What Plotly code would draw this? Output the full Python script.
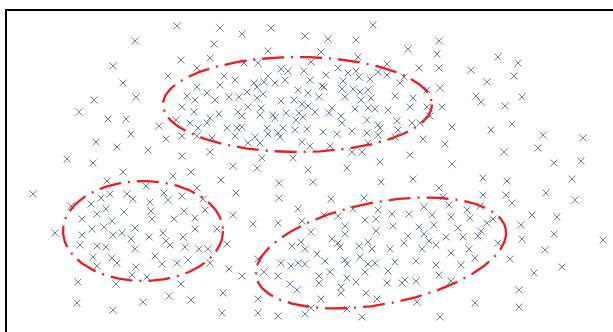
import numpy as np
import plotly.graph_objects as go

# Sample positions (x to the right, y measured downward from the top)
xs = [177, 135, 181, 113, 168, 197, 123, 197, 94, 136, 187, 195, 182, 194, 79, 108, 126, 159, 176, 190,
      198, 131, 182, 197, 96, 166, 117, 148, 182, 67, 93,
      220, 242, 271, 305, 328, 356, 373, 214, 268, 321, 358, 408, 210, 244, 258, 311, 387, 224, 235,
      268, 281, 288, 304, 326, 338, 348, 356, 359, 370, 378, 387, 404, 207, 220, 254, 264, 275, 285, 257,
      310, 322, 324, 343, 342, 353, 360, 368, 400, 229, 239, 247, 257, 263, 298, 308, 319, 345, 361, 371,
      395, 215, 281, 294, 302, 308, 238, 248, 261, 273, 286, 299, 315, 332, 355, 368, 375, 388, 410, 210,
      219, 242, 260, 275, 296, 303, 329, 341, 342, 367, 378, 397, 207, 227, 237, 242, 267, 283, 295, 307,
      323, 337, 352, 367, 380, 398, 235, 255, 268, 278, 280, 212, 248, 260, 302, 310, 330, 352, 362, 368,
      378, 395, 210, 262, 293, 380, 410, 233,
      439, 437, 498, 518, 419, 439, 471, 514, 487, 440, 427, 476, 522, 413, 481, 505, 427, 442, 430, 420,
      412, 452, 491, 512, 543, 583, 423, 445, 538, 504, 554, 581, 452,
      123, 173, 191, 107, 146, 197, 33, 110, 127, 133, 164, 182, 203, 101, 91, 150, 168, 71, 106, 124,
      151, 184, 97, 82, 112, 152, 174, 195, 55, 92, 104, 82, 113, 122, 135, 131, 149, 163, 183, 195,
      80, 97, 106, 166, 170, 185, 199, 135, 93, 112, 117, 155, 162, 177, 188, 97, 136, 132, 147, 78,
      116, 181, 169, 191, 143, 77, 113,
      257, 308, 347, 221, 279, 313, 381, 236, 279, 331, 364, 205, 233, 298, 324, 338, 353, 378, 392, 409,
      253, 278, 302, 365, 376, 345, 393, 217, 311, 376, 227, 208, 332, 345, 404, 292, 301, 338, 340, 359,
      368, 372, 390, 305, 317, 360, 258, 281, 291, 298, 305, 325, 345, 347, 368, 375, 395, 210, 229, 242,
      264, 278, 319, 330, 347, 356, 365, 388, 405, 402, 387, 290, 297, 319, 341, 341, 366, 223, 258, 321,
      377, 311, 347, 222, 258, 278, 305, 362,
      413, 483, 507, 572, 439, 443, 483, 506, 512, 546, 575, 424, 449, 467, 480, 432, 451, 470, 493, 487,
      532, 557, 419, 434, 458, 521, 424, 408, 446, 463, 478, 481, 429, 436, 498, 522, 554, 603, 422, 469,
      545, 451, 475, 416, 510, 436, 461, 562, 439, 534, 416, 451, 519, 417, 475, 519, 440]
ys = [26, 41, 60, 66, 76, 68, 83, 87, 100, 97, 96, 100, 107, 112, 112, 119, 119, 126, 120, 123,
      128, 134, 136, 136, 142, 139, 147, 150, 156, 159, 163,
      28, 34, 28, 36, 39, 40, 25, 44, 51, 52, 57, 49, 58, 63, 63, 62, 64, 76, 80,
      76, 69, 71, 71, 75, 68, 73, 71, 77, 79, 72, 75, 77, 93, 85, 83, 82, 83, 80, 87,
      80, 86, 87, 81, 89, 89, 92, 90, 83, 97, 97, 92, 98, 94, 90, 93, 97, 97, 100, 98,
      96, 100, 101, 100, 104, 106, 112, 107, 108, 115, 113, 113, 112, 108, 109, 108, 109, 110, 107, 118,
      114, 116, 115, 118, 120, 117, 113, 116, 123, 120, 125, 121, 123, 128, 128, 127, 128, 128, 130, 129,
      132, 134, 131, 133, 128, 130, 136, 137, 134, 133, 137, 138, 143, 143, 142, 146, 146, 152, 152, 143,
      135, 137, 152, 158, 158, 162, 155, 166,
      41, 54, 57, 63, 68, 68, 70, 76, 82, 88, 90, 96, 97, 98, 102, 106, 107, 107, 116, 123,
      123, 127, 130, 124, 135, 138, 139, 144, 148, 152, 163, 161, 164,
      172, 176, 172, 181, 186, 188, 194, 194, 194, 199, 193, 196, 199, 198, 204, 202, 200, 206, 209, 212,
      211, 211, 214, 219, 221, 219, 219, 218, 233, 229, 227, 235, 235, 233, 228, 239, 237, 233, 237, 229,
      245, 246, 247, 241, 245, 247, 249, 249, 257, 258, 263, 256, 264, 263, 260, 266, 267, 275, 277, 282,
      284, 284, 296, 300, 302, 303, 310,
      168, 170, 168, 180, 183, 182, 182, 193, 198, 199, 198, 210, 215, 209, 215, 216, 209, 210, 214, 214,
      224, 223, 221, 220, 219, 226, 226, 229, 232, 231, 244, 249, 239, 234, 243, 246, 242, 243, 247, 246,
      242, 249, 249, 249, 254, 257, 259, 263, 266, 263, 264, 261, 260, 264, 264, 263, 262, 263, 269, 276,
      272, 276, 276, 272, 278, 282, 272, 271, 280, 283, 283, 284, 290, 283, 287, 293, 293, 293, 299, 299,
      299, 308, 309, 313, 313, 316, 314, 317,
      179, 178, 181, 179, 188, 197, 195, 195, 203, 193, 200, 207, 205, 210, 206, 215, 217, 218, 219, 223,
      215, 217, 227, 225, 228, 225, 234, 236, 237, 237, 236, 231, 241, 245, 243, 239, 234, 240, 249, 249,
      250, 253, 258, 261, 259, 265, 265, 267, 275, 273, 281, 281, 290, 302, 303, 307, 317]

# Cluster outlines: centre, semi-axes and tilt (degrees, counterclockwise on screen)
ell_cx = [297.5, 143.0, 381.0]
ell_cy = [104.5, 231.0, 253.0]
ell_a = [134.5, 80.0, 127.0]
ell_b = [47.5, 50.0, 51.0]
ell_tilt = [0.0, 0.0, 10.85]

fig = go.Figure()

fig.add_trace(go.Scatter(
    x=xs, y=ys, mode="markers",
    marker=dict(symbol="x-thin", size=7, color="#62709a",
                line=dict(width=0.9, color="#62709a")),
    hoverinfo="skip", showlegend=False))

t = np.linspace(0, 2 * np.pi, 400)
for cx, cy, a, b, tilt in zip(ell_cx, ell_cy, ell_a, ell_b, ell_tilt):
    th = -np.deg2rad(tilt)  # y grows downward
    ex = cx + a * np.cos(t) * np.cos(th) - b * np.sin(t) * np.sin(th)
    ey = cy + a * np.cos(t) * np.sin(th) + b * np.sin(t) * np.cos(th)
    fig.add_trace(go.Scatter(
        x=ex, y=ey, mode="lines",
        line=dict(color="#ee1c1c", width=2.3, dash="22px,7px,2px,7px"),
        hoverinfo="skip", showlegend=False))

fig.update_layout(
    width=613, height=332,
    margin=dict(l=7, r=0, t=11, b=0),
    paper_bgcolor="white", plot_bgcolor="white",
    xaxis=dict(range=[7, 613], side="top", showline=True, linecolor="black", linewidth=2,
               showgrid=False, zeroline=False, showticklabels=False, ticks=""),
    yaxis=dict(range=[332, 11], showline=True, linecolor="black", linewidth=2,
               showgrid=False, zeroline=False, showticklabels=False, ticks=""),
)

fig.write_html("out.html")
